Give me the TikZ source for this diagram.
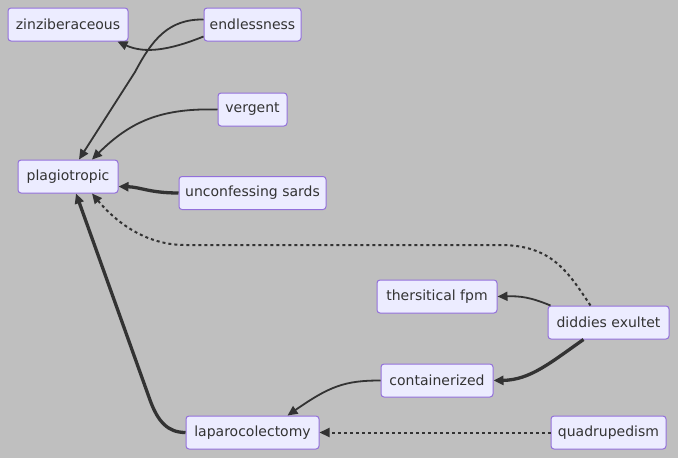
\documentclass[tikz,border=0pt]{standalone}
\usepackage{fontspec}
\setmainfont{DejaVu Sans}
\usetikzlibrary{arrows.meta}
\definecolor{bg}{HTML}{BFBFBF}
\definecolor{nodefill}{HTML}{ECECFF}
\definecolor{nodeborder}{HTML}{9370DB}
\definecolor{ink}{HTML}{333333}
\tikzset{
  box/.style={draw=nodeborder, fill=nodefill, line width=1pt, rounded corners=3pt,
    minimum height=33pt, inner xsep=2pt, inner ysep=0pt, text=ink,
    font=\fontsize{14}{16}\selectfont},
  link/.style={draw=ink, line width=1.8pt, -{Triangle[length=10pt,width=9pt]}},
  thicklink/.style={draw=ink, line width=3.3pt, -{Triangle[length=10pt,width=9pt]}},
  dotlink/.style={draw=ink, line width=2pt, dash pattern=on 3pt off 3pt, -{Triangle[length=10pt,width=9pt]}},
}
\begin{document}
\begin{tikzpicture}[x=1pt,y=1pt]
\fill[bg] (0,0) rectangle (678,-458);
\useasboundingbox (0,0) rectangle (678,-458);

\node[box, minimum width=120pt] (zinz) at (68,-24.5) {zinziberaceous};
\node[box, minimum width=97pt] (endl) at (252.5,-24.5) {endlessness};
\node[box, minimum width=69pt] (verg) at (252.5,-109.5) {vergent};
\node[box, minimum width=100pt] (plag) at (68,-176.5) {plagiotropic};
\node[box, minimum width=147pt] (unco) at (252.5,-193) {unconfessing sards};
\node[box, minimum width=120pt] (thers) at (437,-296.5) {thersitical fpm};
\node[box, minimum width=121pt] (didd) at (608.5,-322.5) {diddies exultet};
\node[box, minimum width=112pt] (cont) at (437,-380.5) {containerized};
\node[box, minimum width=133pt] (lapa) at (252.5,-432.5) {laparocolectomy};
\node[box, minimum width=115pt] (quad) at (608.5,-432.5) {quadrupedism};

% endlessness -> zinziberaceous
\draw[link] ([yshift=-12pt]endl.west) .. controls (170,-50) and (145,-54) .. ([xshift=-11pt]zinz.south east);
% endlessness -> plagiotropic
\draw[link] ([yshift=5pt]endl.west) .. controls (168,-19) and (152,-40) .. (135,-72) -- ([xshift=11pt]plag.north);
% vergent -> plagiotropic
\draw[link] (verg.west) .. controls (160,-108) and (130,-122) .. ([xshift=24pt]plag.north);
% unconfessing sards -> plagiotropic
\draw[thicklink] (unco.west) .. controls (150,-193) and (140,-187) .. ([yshift=-10pt]plag.east);
% diddies exultet -> plagiotropic (dotted)
\draw[dotlink] ([xshift=-18pt]didd.north) .. controls (568,-272) and (552,-245) .. (500,-245) -- (185,-245) .. controls (140,-245) and (110,-215) .. ([xshift=24pt]plag.south);
% diddies exultet -> thersitical fpm
\draw[link] ([xshift=3pt]didd.north west) .. controls (530,-297) and (520,-296) .. (thers.east);
% diddies exultet -> containerized
\draw[thicklink] ([xshift=-25pt]didd.south) .. controls (550,-363) and (530,-380) .. (cont.east);
% containerized -> laparocolectomy
\draw[link] (cont.west) .. controls (345,-380.5) and (330,-386) .. ([xshift=35pt]lapa.north);
% laparocolectomy -> plagiotropic
\draw[thicklink] (lapa.west) .. controls (168,-432.5) and (158,-422) .. (150,-400) -- ([xshift=8pt]plag.south);
% quadrupedism -> laparocolectomy (dotted)
\draw[dotlink] (quad.west) -- (lapa.east);
\end{tikzpicture}
\end{document}
